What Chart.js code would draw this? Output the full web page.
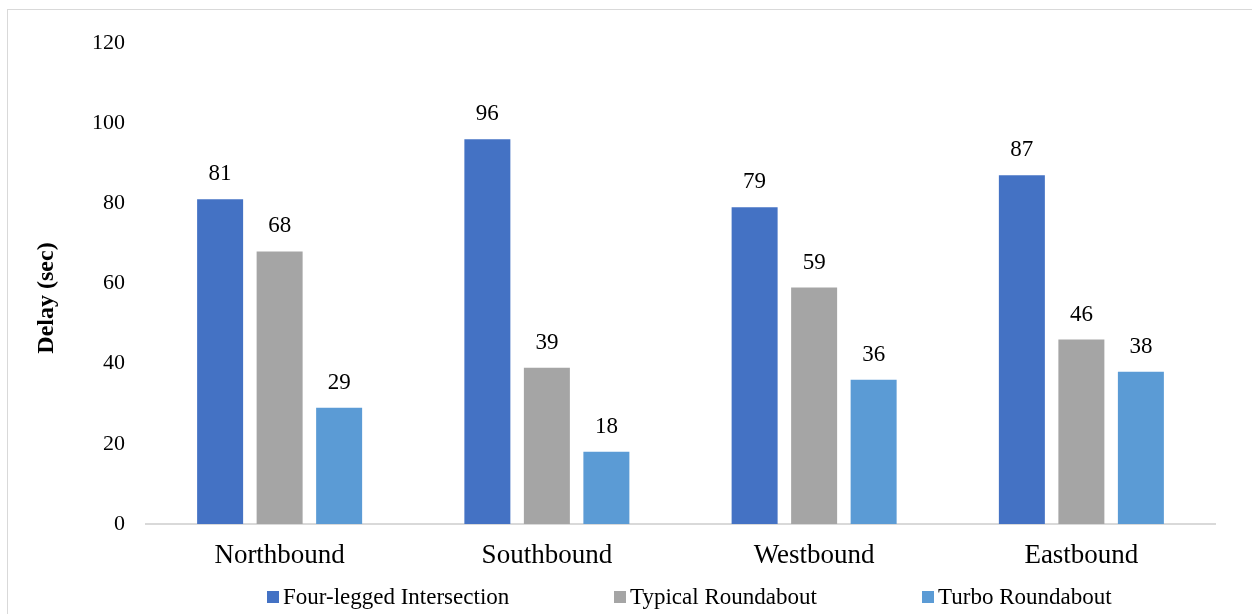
<!DOCTYPE html>
<html>
<head>
<meta charset="utf-8">
<title>Delay by approach</title>
<script src="https://cdn.jsdelivr.net/npm/chart.js@4.4.1/dist/chart.umd.min.js"></script>
<style>
  html, body { margin: 0; padding: 0; background: #ffffff; }
  #wrap { position: relative; width: 1252px; height: 614px; }
</style>
</head>
<body>
<div id="wrap"><canvas id="chart" width="1252" height="614"></canvas></div>
<script>
// Approaches on the x axis
const categories = ['Northbound', 'Southbound', 'Westbound', 'Eastbound'];

// Average delay per approach (seconds)
const seriesNames = ['Four-legged Intersection', 'Typical Roundabout', 'Turbo Roundabout'];
const fourLegged = [81, 96, 79, 87];
const typicalRoundabout = [68, 39, 59, 46];
const turboRoundabout = [29, 18, 36, 38];

// Y axis ticks
const yTicks = [0, 20, 40, 60, 80, 100, 120];

const colors = ['#4472C4', '#A5A5A5', '#5B9BD5'];
const SERIF = '"Liberation Serif", "Times New Roman", serif';

// Frame around the whole chart
const framePlugin = {
  id: 'frame',
  beforeDraw(chart) {
    const ctx = chart.ctx;
    ctx.save();
    ctx.fillStyle = '#ffffff';
    ctx.fillRect(0, 0, chart.width, chart.height);
    ctx.strokeStyle = '#d9d9d9';
    ctx.lineWidth = 1;
    ctx.strokeRect(7.5, 9.5, 1300, 700);
    ctx.restore();
  }
};

// Value labels above each bar
const valueLabels = {
  id: 'valueLabels',
  afterDatasetsDraw(chart) {
    const ctx = chart.ctx;
    ctx.save();
    ctx.font = '23px ' + SERIF;
    ctx.fillStyle = '#000000';
    ctx.textAlign = 'center';
    ctx.textBaseline = 'middle';
    chart.data.datasets.forEach((ds, i) => {
      const meta = chart.getDatasetMeta(i);
      meta.data.forEach((bar, j) => {
        ctx.fillText(String(ds.data[j]), bar.x, bar.y - 25);
      });
    });
    ctx.restore();
  }
};

// Rotated y axis title
const yTitle = {
  id: 'yTitle',
  afterDraw(chart) {
    const ctx = chart.ctx;
    ctx.save();
    ctx.translate(47, 298);
    ctx.rotate(-Math.PI / 2);
    ctx.font = 'bold 24px ' + SERIF;
    ctx.fillStyle = '#000000';
    ctx.textAlign = 'center';
    ctx.textBaseline = 'middle';
    ctx.fillText('Delay (sec)', 0, 0);
    ctx.restore();
  }
};

// Legend row under the category labels
const legendRow = {
  id: 'legendRow',
  afterDraw(chart) {
    const ctx = chart.ctx;
    const starts = [267, 614, 922];
    ctx.save();
    ctx.font = '23px ' + SERIF;
    ctx.textAlign = 'left';
    ctx.textBaseline = 'alphabetic';
    chart.data.datasets.forEach((ds, i) => {
      const x = starts[i];
      ctx.fillStyle = ds.backgroundColor;
      ctx.fillRect(x, 591, 12, 12);
      ctx.fillStyle = '#000000';
      ctx.fillText(ds.label, x + 16, 604);
    });
    ctx.restore();
  }
};

const seriesValues = [fourLegged, typicalRoundabout, turboRoundabout];

new Chart(document.getElementById('chart'), {
  type: 'bar',
  data: {
    labels: categories,
    datasets: seriesNames.map((name, i) => ({
      label: name,
      data: seriesValues[i],
      backgroundColor: colors[i],
      borderWidth: 0,
      categoryPercentage: 0.668,
      barPercentage: 0.773
    }))
  },
  options: {
    responsive: false,
    animation: false,
    devicePixelRatio: 1,
    layout: { padding: { left: 0, right: 37, top: 43, bottom: 0 } },
    plugins: {
      legend: { display: false },
      tooltip: { enabled: false }
    },
    scales: {
      x: {
        grid: { display: false, drawTicks: false, tickLength: 0 },
        border: { display: true, color: '#d9d9d9', width: 2 },
        ticks: {
          color: '#000000',
          font: { family: SERIF, size: 27 },
          padding: 16
        },
        afterFit(scale) { scale.height = 90; }
      },
      y: {
        min: 0,
        max: 120,
        grid: { display: false, drawTicks: false, tickLength: 0 },
        border: { display: false },
        afterBuildTicks(scale) { scale.ticks = yTicks.map(v => ({ value: v })); },
        ticks: {
          color: '#000000',
          font: { family: SERIF, size: 22 },
          padding: 21
        },
        afterFit(scale) { scale.width = 146; }
      }
    }
  },
  plugins: [framePlugin, valueLabels, yTitle, legendRow]
});
</script>
</body>
</html>
